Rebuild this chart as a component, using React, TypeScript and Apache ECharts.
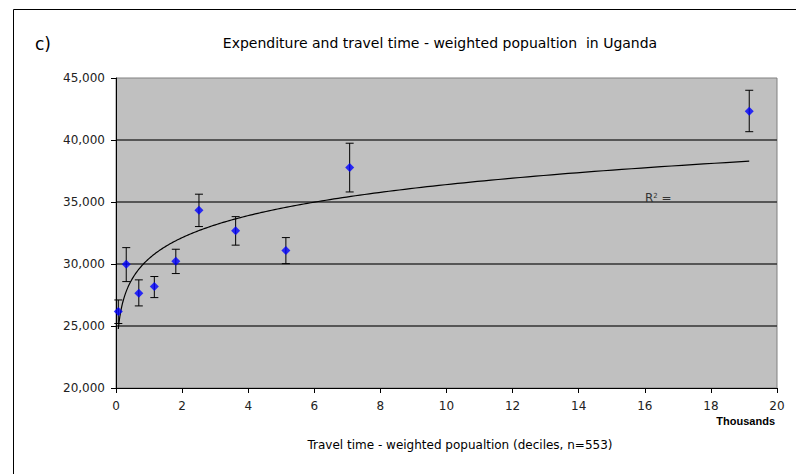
import React, { useEffect, useRef } from "react";
import * as echarts from "echarts";

// Travel time - weighted population (decile means, raw units; axis shows thousands)
const travelTime = [70, 310, 690, 1160, 1810, 2510, 3620, 5140, 7070, 19160];
// Mean expenditure per decile
const expenditure = [26160, 29980, 27650, 28180, 30230, 34340, 32690, 31080, 37780, 42320];
// Confidence interval bounds per decile
const errorLow = [25200, 28580, 26620, 27290, 29230, 33020, 31520, 30030, 35810, 40670];
const errorHigh = [27100, 31320, 28720, 28990, 31190, 35630, 33820, 32130, 39740, 44010];

const xMin = 0;
const xMax = 20000;
const xStep = 2000;
const yMin = 20000;
const yMax = 45000;
const yStep = 5000;

const titleText = "Expenditure and travel time - weighted popualtion  in Uganda";
const xAxisTitle = "Travel time - weighted popualtion (deciles, n=553)";
const panelLabel = "c)";
const unitLabel = "Thousands";

const FONT = "DejaVu Sans, Verdana, sans-serif";

// Power trend line y = c * x^k, least squares in log-log space
function powerFit(xs: number[], ys: number[]) {
  const n = xs.length;
  const lx = xs.map((v) => Math.log(v));
  const ly = ys.map((v) => Math.log(v));
  const mx = lx.reduce((a, b) => a + b, 0) / n;
  const my = ly.reduce((a, b) => a + b, 0) / n;
  let sxy = 0;
  let sxx = 0;
  for (let i = 0; i < n; i++) {
    sxy += (lx[i] - mx) * (ly[i] - my);
    sxx += (lx[i] - mx) * (lx[i] - mx);
  }
  const k = sxy / sxx;
  const c = Math.exp(my - k * mx);
  return { c, k };
}

function trendPoints() {
  const { c, k } = powerFit(travelTime, expenditure);
  const lo = Math.min(...travelTime);
  const hi = Math.max(...travelTime);
  const pts: number[][] = [];
  const steps = 300;
  for (let i = 0; i <= steps; i++) {
    const x = lo * Math.pow(hi / lo, i / steps);
    pts.push([x, c * Math.pow(x, k)]);
  }
  return pts;
}

export default function App() {
  const ref = useRef<HTMLDivElement>(null);

  useEffect(() => {
    if (!ref.current) return;
    const chart = echarts.init(ref.current, null, { renderer: "svg" });

    const errorData = travelTime.map((x, i) => [x, errorLow[i], errorHigh[i]]);
    const pointData = travelTime.map((x, i) => [x, expenditure[i]]);

    const option: any = {
      animation: false,
      backgroundColor: "#ffffff",
      grid: {
        left: 116,
        right: 19,
        top: 78,
        bottom: 86,
        show: true,
        backgroundColor: "#C0C0C0",
        borderColor: "#808080",
        borderWidth: 1,
      },
      xAxis: {
        type: "value",
        min: xMin,
        max: xMax,
        interval: xStep,
        axisLine: { show: true, onZero: false, lineStyle: { color: "#000", width: 1 } },
        axisTick: { show: true, length: 5, lineStyle: { color: "#000" } },
        axisLabel: {
          margin: 12,
          fontFamily: FONT,
          fontSize: 12,
          color: "#222",
          formatter: (v: number) => String(v / 1000),
        },
        splitLine: { show: false },
      },
      yAxis: {
        type: "value",
        min: yMin,
        max: yMax,
        interval: yStep,
        axisLine: { show: true, onZero: false, lineStyle: { color: "#000", width: 1 } },
        axisTick: { show: true, length: 5, lineStyle: { color: "#000" } },
        axisLabel: {
          margin: 11,
          fontFamily: FONT,
          fontSize: 12,
          color: "#222",
          formatter: (v: number) => v.toLocaleString("en-US"),
        },
        splitLine: {
          show: true,
          showMinLine: false,
          showMaxLine: false,
          lineStyle: { color: "#333", width: 1.5 },
        },
      },
      series: [
        {
          type: "custom",
          name: "interval",
          data: errorData,
          z: 2,
          renderItem: (params: any, api: any) => {
            const x = api.value(0);
            const top = api.coord([x, api.value(2)]);
            const bot = api.coord([x, api.value(1)]);
            const half = 4;
            const style = { stroke: "#000", lineWidth: 1 };
            return {
              type: "group",
              children: [
                { type: "line", shape: { x1: top[0], y1: top[1], x2: bot[0], y2: bot[1] }, style },
                { type: "line", shape: { x1: top[0] - half, y1: top[1], x2: top[0] + half, y2: top[1] }, style },
                { type: "line", shape: { x1: bot[0] - half, y1: bot[1], x2: bot[0] + half, y2: bot[1] }, style },
              ],
            };
          },
        },
        {
          type: "line",
          name: "trend",
          data: trendPoints(),
          showSymbol: false,
          symbol: "none",
          z: 3,
          lineStyle: { color: "#000", width: 1.2 },
        },
        {
          type: "scatter",
          name: "expenditure",
          data: pointData,
          symbol: "diamond",
          symbolSize: 9,
          z: 4,
          itemStyle: { color: "#0000FF" },
        },
      ],
      graphic: [
        {
          type: "rect",
          silent: true,
          shape: { x: 13.5, y: 9.5, width: 900, height: 600 },
          style: { fill: "none", stroke: "#000", lineWidth: 1 },
        },
        {
          type: "text",
          silent: true,
          x: 35,
          y: 44,
          style: {
            text: panelLabel,
            font: `17px ${FONT}`,
            fill: "#000",
            textAlign: "left",
            textVerticalAlign: "middle",
          },
        },
        {
          type: "text",
          silent: true,
          x: 440,
          y: 43,
          style: {
            text: titleText,
            font: `14px ${FONT}`,
            fill: "#000",
            textAlign: "center",
            textVerticalAlign: "middle",
          },
        },
        {
          type: "text",
          silent: true,
          x: 775,
          y: 421,
          style: {
            text: unitLabel,
            font: `bold 11px Liberation Sans, Arial, sans-serif`,
            fill: "#000",
            textAlign: "right",
            textVerticalAlign: "middle",
          },
        },
        {
          type: "text",
          silent: true,
          x: 460,
          y: 445,
          style: {
            text: xAxisTitle,
            font: `12px ${FONT}`,
            fill: "#000",
            textAlign: "center",
            textVerticalAlign: "middle",
          },
        },
        {
          type: "text",
          silent: true,
          x: 645,
          y: 198,
          style: {
            text: "{r|R}{s|2}{r| =}",
            rich: {
              r: { fontFamily: FONT, fontSize: 12, fill: "#333", color: "#333", verticalAlign: "bottom" },
              s: { fontFamily: FONT, fontSize: 7, fill: "#333", color: "#333", verticalAlign: "top" },
            },
            textVerticalAlign: "middle",
          },
        },
      ],
    };

    chart.setOption(option);
    return () => chart.dispose();
  }, []);

  return (
    <div
      ref={ref}
      style={{ position: "absolute", left: 0, top: 0, width: 796, height: 474, background: "#fff" }}
    />
  );
}
